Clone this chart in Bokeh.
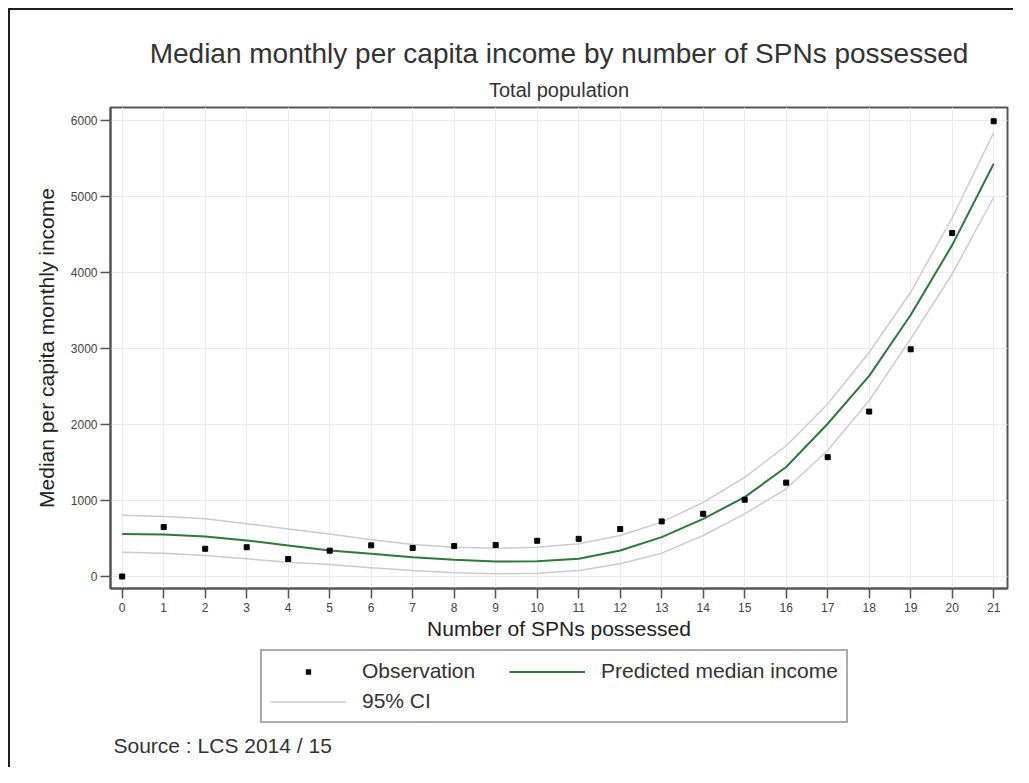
from bokeh.plotting import figure
from bokeh.layouts import column
from bokeh.models import Range1d, Legend, LegendItem, Title, FixedTicker, Label
from bokeh.embed import file_html
from bokeh.resources import INLINE

# ---- data ----
spns = list(range(22))
observed = [0, 650, 365, 385, 230, 340, 410, 375, 400, 415, 470, 495,
            625, 725, 825, 1010, 1235, 1570, 2170, 2990, 4520, 5990]
predicted = [560, 553, 526, 474, 408, 342, 298, 254, 219, 197, 202, 233,
             342, 518, 759, 1044, 1440, 2010, 2640, 3440, 4360, 5430]
ci_upper = [805, 790, 760, 695, 625, 560, 485, 420, 385, 372, 385, 430,
            540, 715, 975, 1305, 1720, 2270, 2950, 3740, 4720, 5840]
ci_lower = [320, 307, 276, 232, 189, 158, 114, 79, 48, 35, 44, 79,
            167, 307, 539, 825, 1154, 1658, 2316, 3127, 3980, 4990]
x_ticks = list(range(22))
y_ticks = [0, 1000, 2000, 3000, 4000, 5000, 6000]

title_text = "Median monthly per capita income by number of SPNs possessed"
subtitle_text = "Total population"
x_label = "Number of SPNs possessed"
y_label = "Median per capita monthly income"
source_text = "Source : LCS 2014 / 15"

FONT = "Liberation Sans"
GREEN = "#2b7a37"
GREY = "#cccccc"
W = 1013
FRAME_L, FRAME_R = 110, 1007

# ---------------- main chart ----------------
p = figure(width=W, height=648, output_backend="svg", toolbar_location=None,
           x_range=Range1d(-0.282, 21.333), y_range=Range1d(-158, 6171),
           min_border_left=FRAME_L, min_border_right=W - FRAME_R, min_border_top=107,
           min_border_bottom=60, title=title_text)
p.background_fill_color = "white"
p.border_fill_alpha = 0
p.outline_line_color = "#555555"
p.outline_line_width = 2

p.title.align = "center"
p.title.text_font = FONT
p.title.text_font_size = "28px"
p.title.text_font_style = "normal"
p.title.text_color = "#333333"
p.title.standoff = 3

sub_title = Title(text=subtitle_text, align="center", text_font=FONT,
                  text_font_size="20px", text_font_style="normal",
                  text_color="#333333", standoff=13)
p.add_layout(sub_title, "above")

r_up = p.line(spns, ci_upper, line_color=GREY, line_width=1.5)
r_lo = p.line(spns, ci_lower, line_color=GREY, line_width=1.5)
r_pred = p.line(spns, predicted, line_color=GREEN, line_width=2)
r_obs = p.scatter(spns, observed, marker="square", size=5, color="black")

for ax in (p.xaxis[0], p.yaxis[0]):
    ax.axis_line_color = "#555555"
    ax.axis_line_width = 2
    ax.major_tick_line_color = "#555555"
    ax.major_tick_line_width = 1.5
    ax.major_tick_out = 10
    ax.major_tick_in = 0
    ax.minor_tick_line_color = None
    ax.major_label_text_font = FONT
    ax.major_label_text_font_size = "12px"
    ax.major_label_text_color = "#444444"
    ax.axis_label_text_font = FONT
    ax.axis_label_text_font_size = "21px"
    ax.axis_label_text_font_style = "normal"
    ax.axis_label_text_color = "#222222"

p.xaxis.ticker = FixedTicker(ticks=x_ticks)
p.yaxis.ticker = FixedTicker(ticks=y_ticks)
p.xaxis.axis_label = x_label
p.yaxis.axis_label = y_label
p.xaxis.major_label_standoff = 4
p.xaxis.axis_label_standoff = 2
p.yaxis.major_label_standoff = 3
p.yaxis.axis_label_standoff = 10
p.yaxis.major_label_orientation = "horizontal"

p.xgrid.ticker = FixedTicker(ticks=x_ticks)
p.ygrid.ticker = FixedTicker(ticks=y_ticks)
p.grid.grid_line_color = "#ebebeb"
p.grid.grid_line_width = 1

# ---------------- legend + source strip ----------------
H2 = 767 - 648
p2 = figure(width=W, height=H2, output_backend="svg", toolbar_location=None,
            x_range=Range1d(FRAME_L, FRAME_R), y_range=Range1d(0, H2),
            x_axis_location=None, y_axis_location=None,
            min_border_left=FRAME_L, min_border_right=W - FRAME_R,
            min_border_top=0, min_border_bottom=0)
p2.grid.visible = False
p2.outline_line_color = None
p2.background_fill_alpha = 0
p2.border_fill_alpha = 0

# legend keys: same series, styled like the chart (they fall outside this strip's range)
k_obs = p2.scatter(spns, observed, marker="square", size=5, color="black")
k_pred = p2.line(spns, predicted, line_color=GREEN, line_width=2)
k_ci = p2.line(spns, ci_upper, line_color=GREY, line_width=1.5)

legend = Legend(items=[
    LegendItem(label="Observation", renderers=[k_obs]),
    LegendItem(label="Predicted median income", renderers=[k_pred]),
    LegendItem(label="95% CI", renderers=[k_ci]),
], location=(260 - FRAME_L, 44), orientation="horizontal", ncols=2)
legend.glyph_width = 76
legend.glyph_height = 11
legend.label_standoff = 16
legend.label_width = 141
legend.spacing = 6
legend.padding = 8
legend.margin = 0
legend.border_line_color = "#555555"
legend.border_line_width = 2
legend.background_fill_color = "white"
legend.background_fill_alpha = 1
legend.label_text_font = FONT
legend.label_text_font_size = "21px"
legend.label_text_color = "#333333"
p2.add_layout(legend, "center")

src = Label(x=113, y=H2 - (745 - 648), text=source_text, text_font=FONT,
            text_font_size="21px", text_color="#333333", text_baseline="middle")
p2.add_layout(src)

root = column(p, p2, spacing=0)
root.styles = {"background": "linear-gradient(#1e1e1e,#1e1e1e) 8px 8px / 2px calc(100% - 8px) no-repeat, "
                             "linear-gradient(#1e1e1e,#1e1e1e) 8px 8px / calc(100% - 8px) 2px no-repeat, #ffffff"}

open("out.html", "w").write(file_html(root, INLINE))
